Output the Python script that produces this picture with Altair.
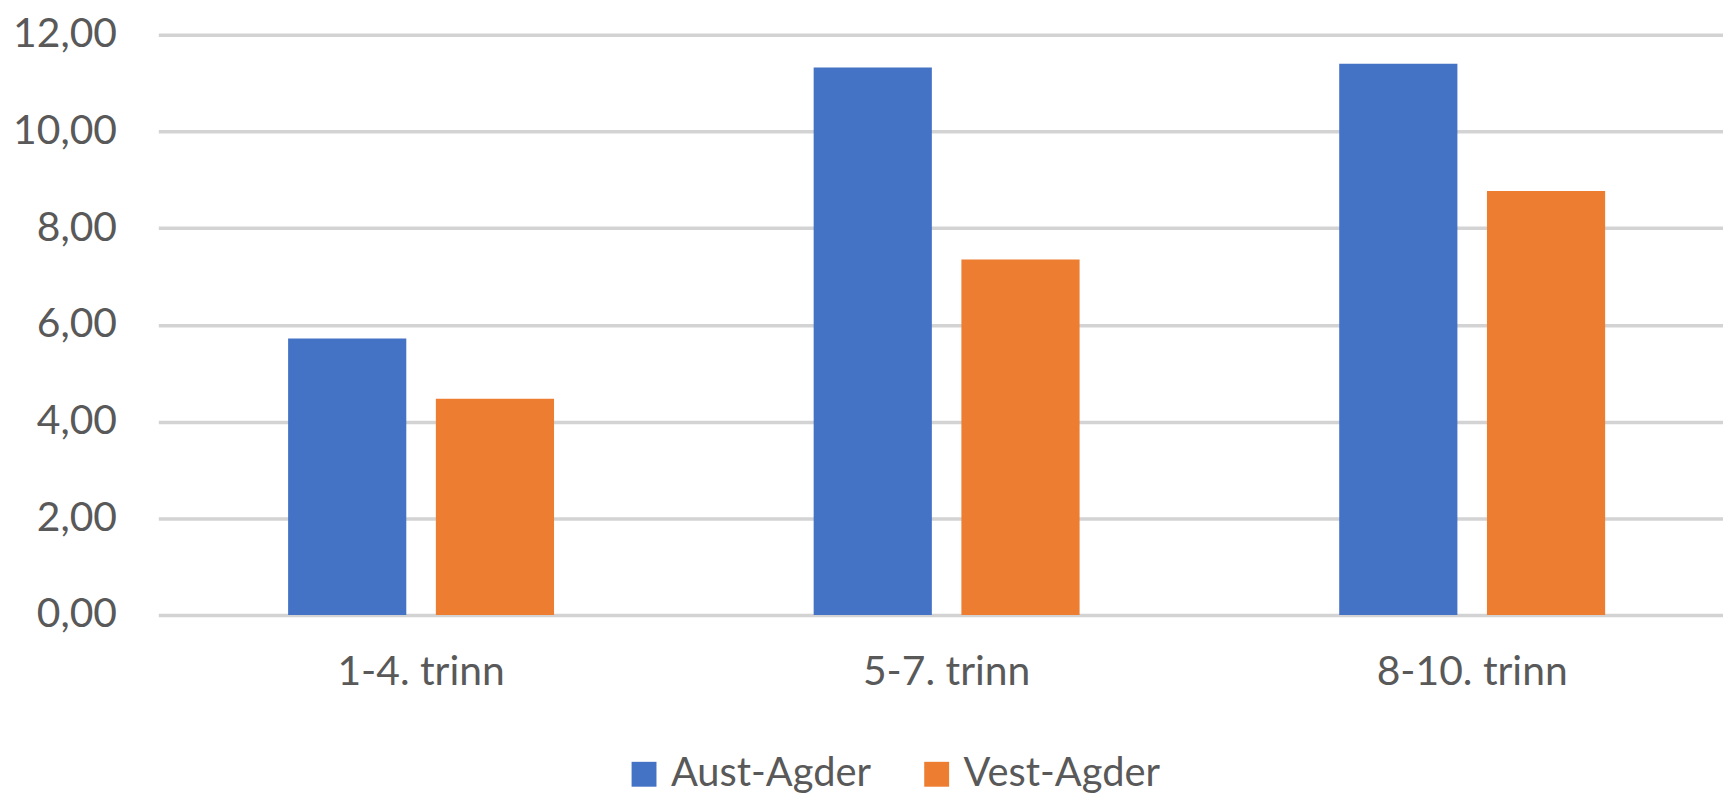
import altair as alt
import pandas as pd

categories = ["1-4. trinn", "5-7. trinn", "8-10. trinn"]
series = ["Aust-Agder", "Vest-Agder"]
aust_agder = [5.72, 11.32, 11.40]
vest_agder = [4.47, 7.35, 8.77]
y_ticks = [0, 2, 4, 6, 8, 10, 12]
colors = ["#4472C4", "#ED7D31"]

rows = []
for c, a, v in zip(categories, aust_agder, vest_agder):
    rows.append({"category": c, "series": series[0], "value": a})
    rows.append({"category": c, "series": series[1], "value": v})
df = pd.DataFrame(rows)

FONT = "Lato"
TXT = "#595959"

chart = alt.Chart(df).mark_bar().encode(
    x=alt.X(
        "category:N",
        sort=categories,
        scale=alt.Scale(range=[0, 1584], paddingInner=0.494, paddingOuter=0.247),
        axis=alt.Axis(
            title=None, labelAngle=0, ticks=False, domain=False, grid=False,
            labelPadding=38, labelFontSize=41, labelColor=TXT, labelFont=FONT,
            labelLimit=0, labelOverlap=False,
        ),
    ),
    xOffset=alt.XOffset(
        "series:N", sort=series, scale=alt.Scale(paddingInner=0.2, paddingOuter=0)
    ),
    y=alt.Y(
        "value:Q",
        scale=alt.Scale(domain=[0, 12]),
        axis=alt.Axis(
            values=y_ticks,
            labelExpr="replace(format(datum.value, '.2f'), '.', ',')",
            title=None, ticks=False, domain=False,
            labelPadding=42, labelFontSize=41, labelColor=TXT, labelFont=FONT,
            labelLimit=0,
            gridColor="#D3D3D3", gridWidth=3.5,
        ),
    ),
    color=alt.Color(
        "series:N",
        scale=alt.Scale(domain=series, range=colors),
        legend=alt.Legend(
            title=None, orient="none", direction="horizontal",
            legendX=468, legendY=723,
            symbolType="square", symbolSize=625, symbolStrokeWidth=0,
            labelFontSize=40, labelColor=TXT, labelFont=FONT, labelLimit=0,
            labelOffset=7, columnPadding=45, padding=0, offset=0,
        ),
    ),
).properties(
    width=1572,
    height=583,
    autosize=alt.AutoSizeParams(type="none"),
    padding={"left": 151, "top": 25, "right": 0, "bottom": 180},
).configure_view(stroke=None)

chart.save("out.html", embed_options={"renderer": "svg", "actions": False})
